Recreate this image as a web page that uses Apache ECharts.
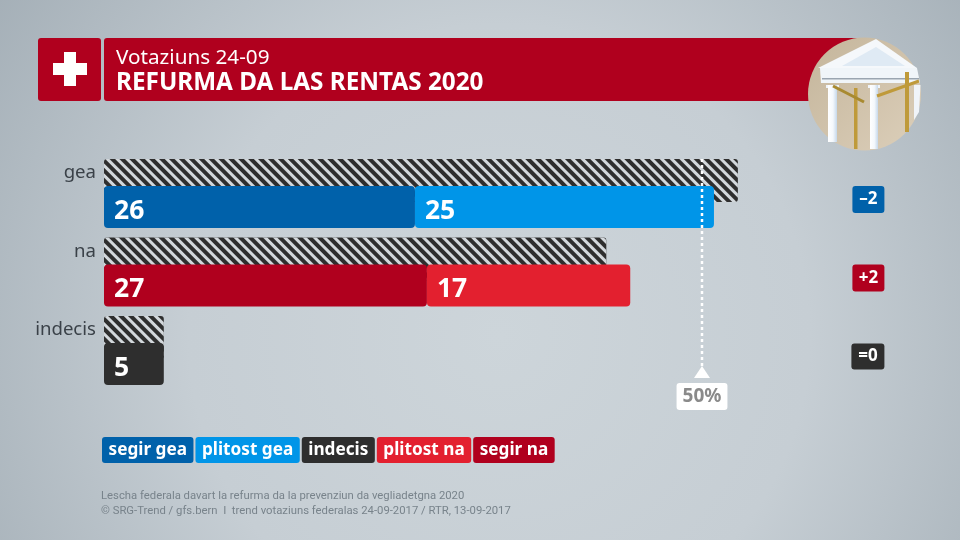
<!DOCTYPE html>
<html lang="rm">
<head>
  <meta charset="UTF-8">
  <title>Refurma da las rentas 2020</title>
  <script src="https://cdn.jsdelivr.net/npm/echarts@6/dist/echarts.min.js"></script>
  <style>
    html, body { margin: 0; padding: 0; background: #c4ccd2; }
    #chart { width: 960px; height: 540px; }
  </style>
</head>
<body>
  <div id="chart"></div>
  <script>
    // data
    const categories = ['gea', 'na', 'indecis'];
    const previousTotal = [53, 42, 5];
    const segirGea = [26, null, null];
    const plitostGea = [25, null, null];
    const indecis = [null, null, 5];
    const plitostNa = [null, 17, null];
    const segirNa = [null, 27, null];
    const deltaLabels = ['–2', '+2', '=0'];
    const deltaStyles = ['blue', 'red', 'dark'];
    const majority = [50];
    const majorityLabel = '50%';
    const legendNames = ['segir gea', 'plitost gea', 'indecis', 'plitost na', 'segir na'];

    const FONT = '"Noto Sans", sans-serif';
    const DARK_BLUE = '#0061aa';
    const LIGHT_BLUE = '#0095e8';
    const DARK_RED = '#b0001e';
    const LIGHT_RED = '#e3202f';
    const DARK = '#2e2e2e';

    const legendColors = [DARK_BLUE, LIGHT_BLUE, DARK, LIGHT_RED, DARK_RED];

    // one unit on the value axis = 11.96px, 65 units across
    const GRID_LEFT = 104;
    const GRID_WIDTH = 777.4;

    const xBase = { type: 'value', min: 0, max: 65, show: false };
    const catBase = { type: 'category', data: categories, inverse: true, axisLine: { show: false }, axisTick: { show: false } };

    function stacked(name, values, color) {
      return {
        name: name,
        type: 'bar',
        stack: 'now',
        xAxisIndex: 1,
        yAxisIndex: 1,
        data: values,
        barWidth: 42,
        z: 3,
        itemStyle: { color: color, borderRadius: 4 },
        label: {
          show: true,
          position: 'insideLeft',
          distance: 10,
          offset: [0, 4],
          color: '#fff',
          fontFamily: FONT,
          fontWeight: 'bold',
          fontSize: 26.5
        }
      };
    }

    function badge(color, width, height) {
      return { backgroundColor: color, color: '#fff', fontFamily: FONT, fontWeight: 'bold', fontSize: 17, width: width, height: height, align: 'center', borderRadius: 3 };
    }

    const chart = echarts.init(document.getElementById('chart'));

    // column shading for the temple picture
    const columnFill = new echarts.graphic.LinearGradient(0, 0, 1, 0, [
      { offset: 0, color: '#ffffff' },
      { offset: 0.55, color: '#f4f8fc' },
      { offset: 1, color: '#c6d8ea' }
    ]);

    chart.setOption({
      animation: false,
      backgroundColor: new echarts.graphic.RadialGradient(0.52, 0.62, 1.15, [
        { offset: 0, color: '#cdd5da' },
        { offset: 0.5, color: '#c6ced4' },
        { offset: 1, color: '#a3aeb6' }
      ]),
      title: [
        {
          text: 'Votaziuns 24-09', left: 116, top: 48, padding: 0,
          textStyle: { color: '#fff', fontFamily: FONT, fontWeight: 'normal', fontSize: 20.7 }
        },
        {
          text: 'REFURMA DA LAS RENTAS 2020', left: 116, top: 71, padding: 0,
          textStyle: { color: '#fff', fontFamily: FONT, fontWeight: 'bold', fontSize: 24.3 }
        },
        {
          text: 'Lescha federala davart la refurma da la prevenziun da vegliadetgna 2020', left: 101, top: 491, padding: 0,
          textStyle: { color: '#78838b', fontFamily: 'Roboto, sans-serif', fontWeight: 'normal', fontSize: 11.3 }
        },
        {
          text: '© SRG-Trend / gfs.bern  I  trend votaziuns federalas 24-09-2017 / RTR, 13-09-2017', left: 101, top: 506, padding: 0,
          textStyle: { color: '#78838b', fontFamily: 'Roboto, sans-serif', fontWeight: 'normal', fontSize: 11.3 }
        }
      ],
      legend: {
        left: 97,
        top: 437,
        padding: 0,
        itemGap: -3,
        itemWidth: 0,
        itemHeight: 0,
        selectedMode: false,
        icon: 'none',
        data: legendNames.map(function (name, i) {
          return {
            name: name,
            textStyle: {
              color: '#fff',
              backgroundColor: legendColors[i],
              borderRadius: 3,
              padding: [4, 6.5, 4, 6.5],
              fontFamily: FONT,
              fontWeight: 'bold',
              fontSize: 17.2,
              lineHeight: 18
            }
          };
        })
      },
      grid: [
        { left: GRID_LEFT, width: GRID_WIDTH, top: 141.25, height: 235.5 },  // hatched bars
        { left: GRID_LEFT, width: GRID_WIDTH, top: 167.75, height: 235.5 },  // current bars
        { left: GRID_LEFT, width: GRID_WIDTH, top: 159, height: 213 }        // 50% line
      ],
      xAxis: [
        Object.assign({ gridIndex: 0 }, xBase),
        Object.assign({ gridIndex: 1 }, xBase),
        Object.assign({ gridIndex: 2 }, xBase)
      ],
      yAxis: [
        Object.assign({ gridIndex: 0 }, catBase, {
          axisLabel: {
            margin: 8,
            formatter: '{a|{value}}',
            rich: {
              a: { color: '#3a4148', fontFamily: FONT, fontSize: 18.6, padding: [0, 0, 15, 0] }
            }
          }
        }),
        Object.assign({ gridIndex: 1 }, catBase, { axisLabel: { show: false } }),
        { gridIndex: 2, type: 'value', min: 0, max: 1, inverse: true, show: false },
        {
          gridIndex: 1,
          type: 'category',
          position: 'right',
          data: deltaLabels,
          inverse: true,
          axisLine: { show: false },
          axisTick: { show: false },
          axisLabel: {
            align: 'right',
            margin: 3,
            padding: [0, 0, 15, 0],
            formatter: function (value, i) {
              return '{' + deltaStyles[i] + '|' + value + '}';
            },
            rich: {
              blue: badge(DARK_BLUE, 32, 27),
              red: badge(DARK_RED, 32, 27),
              dark: badge(DARK, 33, 26)
            }
          }
        }
      ],
      series: [
        {
          name: 'previous',
          type: 'bar',
          xAxisIndex: 0,
          yAxisIndex: 0,
          data: previousTotal,
          barWidth: 43,
          z: 2,
          itemStyle: {
            color: '#2e2e2e',
            borderRadius: 3,
            decal: {
              symbol: 'rect',
              dashArrayX: [1, 0],
              dashArrayY: [2.4, 3.5],
              rotation: Math.PI / 4,
              color: '#d3d8dc'
            }
          }
        },
        stacked('segir gea', segirGea, DARK_BLUE),
        stacked('plitost gea', plitostGea, LIGHT_BLUE),
        stacked('segir na', segirNa, DARK_RED),
        stacked('plitost na', plitostNa, LIGHT_RED),
        stacked('indecis', indecis, DARK),
        {
          name: '50% line',
          type: 'line',
          xAxisIndex: 2,
          yAxisIndex: 2,
          data: [[majority[0], 0], [majority[0], 1]],
          symbol: 'none',
          z: 5,
          lineStyle: { color: '#fff', width: 2.5, type: [3, 3] }
        },
        {
          name: '50% mark',
          type: 'scatter',
          xAxisIndex: 2,
          yAxisIndex: 2,
          data: [[majority[0], 1]],
          symbol: 'triangle',
          symbolSize: [16, 12],
          z: 6,
          itemStyle: { color: '#fff', opacity: 1 },
          label: {
            show: true,
            position: 'bottom',
            distance: 5,
            formatter: majorityLabel,
            backgroundColor: '#fff',
            color: '#8a8a8a',
            borderRadius: 3,
            padding: [4, 6, 4, 6],
            fontFamily: FONT,
            fontWeight: 'bold',
            fontSize: 19
          }
        }
      ],
      graphic: [
        { type: 'rect', shape: { x: 38, y: 38, width: 63, height: 63, r: 3 }, style: { fill: DARK_RED } },
        { type: 'rect', shape: { x: 104, y: 38, width: 760, height: 63, r: [3, 0, 0, 3] }, style: { fill: DARK_RED } },
        // swiss cross
        { type: 'rect', shape: { x: 64, y: 52, width: 12, height: 34 }, style: { fill: '#fff' } },
        { type: 'rect', shape: { x: 53, y: 63, width: 34, height: 12 }, style: { fill: '#fff' } },
        // picture in the corner: the temple with cranes
        {
          type: 'circle', z: 1, shape: { cx: 864.5, cy: 94, r: 56.5 },
          style: {
            fill: new echarts.graphic.LinearGradient(0, 0, 1, 1, [
              { offset: 0, color: '#c4b59b' },
              { offset: 1, color: '#dccfba' }
            ])
          }
        },
        { type: 'polygon', z: 2, shape: { points: [[876, 39], [818, 68], [917, 68]] }, style: { fill: '#f5f8fb' } },
        { type: 'polygon', z: 2, shape: { points: [[876, 47], [842, 66], [905, 66]] }, style: { fill: '#dfeaf4' } },
        { type: 'polygon', z: 2, shape: { points: [[820, 68], [917, 68], [920, 83], [821, 83]] }, style: { fill: '#f0f5f9' } },
        { type: 'rect', z: 2, shape: { x: 822, y: 78, width: 97, height: 1.5 }, style: { fill: '#9aa5b0' } },
        { type: 'rect', z: 2, shape: { x: 826, y: 85, width: 13, height: 3 }, style: { fill: '#f0f4f9' } },
        { type: 'rect', z: 2, shape: { x: 868, y: 85, width: 12, height: 3 }, style: { fill: '#f0f4f9' } },
        { type: 'rect', z: 2, shape: { x: 828, y: 85, width: 9, height: 57 }, style: { fill: columnFill } },
        { type: 'rect', z: 2, shape: { x: 870, y: 85, width: 8, height: 64 }, style: { fill: columnFill } },
        { type: 'polygon', z: 2, shape: { points: [[914, 85], [920.5, 85], [919, 112], [914, 120]] }, style: { fill: '#f0f4f9' } },
        { type: 'rect', z: 3, shape: { x: 854, y: 88, width: 3.5, height: 61 }, style: { fill: '#bf9a3a' } },
        { type: 'rect', z: 3, shape: { x: 905, y: 72, width: 4, height: 60 }, style: { fill: '#bf9a3a' } },
        { type: 'line', z: 3, shape: { x1: 833, y1: 86, x2: 864, y2: 102 }, style: { stroke: '#a88a30', lineWidth: 3 } },
        { type: 'line', z: 3, shape: { x1: 877, y1: 96, x2: 919, y2: 81 }, style: { stroke: '#bf9a3a', lineWidth: 3 } }
      ]
    });
  </script>
</body>
</html>
